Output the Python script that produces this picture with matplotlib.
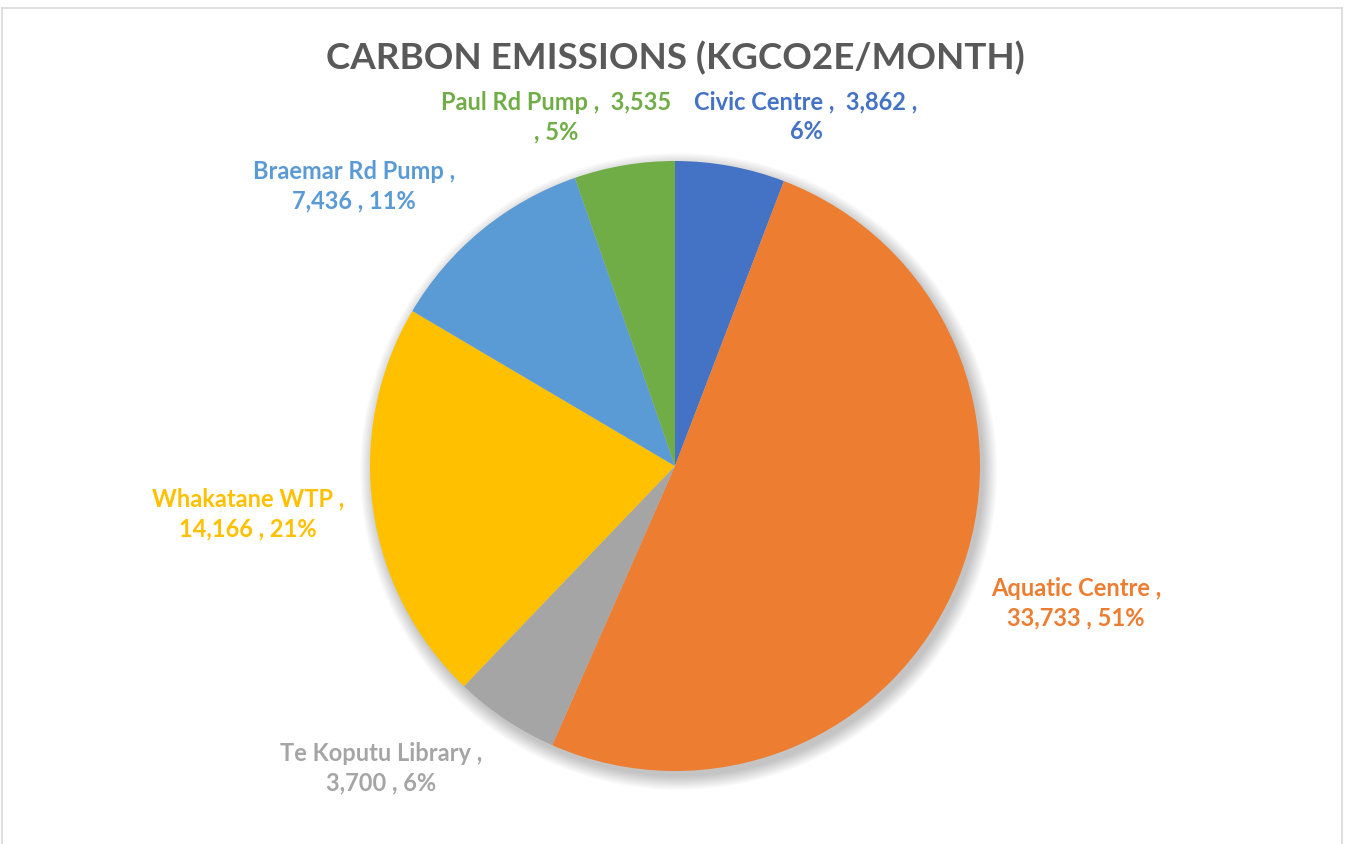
import matplotlib
matplotlib.use("Agg")
import matplotlib.pyplot as plt
from matplotlib.patches import Circle
from matplotlib.lines import Line2D

categories = ["Civic Centre", "Aquatic Centre", "Te Koputu Library",
              "Whakatane WTP", "Braemar Rd Pump", "Paul Rd Pump"]
values = [3862, 33733, 3700, 14166, 7436, 3535]
percents = ["6%", "51%", "6%", "21%", "11%", "5%"]
colors = ["#4472C4", "#ED7D31", "#A5A5A5", "#FFC000", "#5B9BD5", "#70AD47"]

W, H = 1346, 844
fig = plt.figure(figsize=(W / 100, H / 100), dpi=100)
plt.rcParams['font.family'] = ['Lato', 'DejaVu Sans']

# border
for xs, ys in [([2, 1342], [836, 836]), ([2, 2], [0, 836]), ([1342, 1342], [0, 836])]:
    fig.add_artist(Line2D([x / W for x in xs], [y / H for y in ys], color="#D9D9D9", lw=1.2))

cx, cy, r = 675, 466, 305
ax = fig.add_axes([(cx - r) / W, (H - cy - r) / H, 2 * r / W, 2 * r / H])

# soft shadow
for i in range(12):
    ax.add_patch(Circle((0.012, -0.018), 1.0 + 0.004 * i, color="black",
                        alpha=0.018, lw=0, zorder=0, clip_on=False))

ax.pie(values, colors=colors, startangle=90, counterclock=False, radius=1,
       wedgeprops=dict(linewidth=0), frame=True)
ax.set_xlim(-1, 1)
ax.set_ylim(-1, 1)
ax.axis("off")

fig.text(675 / W, 1 - 58 / H, "CARBON EMISSIONS (KGCO2E/MONTH)", ha="center", va="center",
         fontsize=26.5, fontweight="bold", color="#595959")

label_lines = {
    "Civic Centre": (f"Civic Centre ,  {values[0]:,} ,", percents[0]),
    "Aquatic Centre": ("Aquatic Centre ,", f"{values[1]:,} , {percents[1]}"),
    "Te Koputu Library": ("Te Koputu Library ,", f"{values[2]:,} , {percents[2]}"),
    "Whakatane WTP": ("Whakatane WTP ,", f"{values[3]:,} , {percents[3]}"),
    "Braemar Rd Pump": ("Braemar Rd Pump ,", f"{values[4]:,} , {percents[4]}"),
    "Paul Rd Pump": (f"Paul Rd Pump ,  {values[5]:,}", f", {percents[5]}"),
}
label_pos = {
    "Civic Centre": (806, 101),
    "Aquatic Centre": (1076, 587),
    "Te Koputu Library": (381, 752),
    "Whakatane WTP": (248, 498),
    "Braemar Rd Pump": (354, 170),
    "Paul Rd Pump": (556, 101),
}
for cat, col in zip(categories, colors):
    l1, l2 = label_lines[cat]
    x, y = label_pos[cat]
    fig.text(x / W, 1 - (y + 16) / H, l1 + "\n" + l2, ha="center", va="center",
             fontsize=17, fontweight="bold", color=col, linespacing=1.35)

fig.savefig("out.png", dpi=100, facecolor="white")
